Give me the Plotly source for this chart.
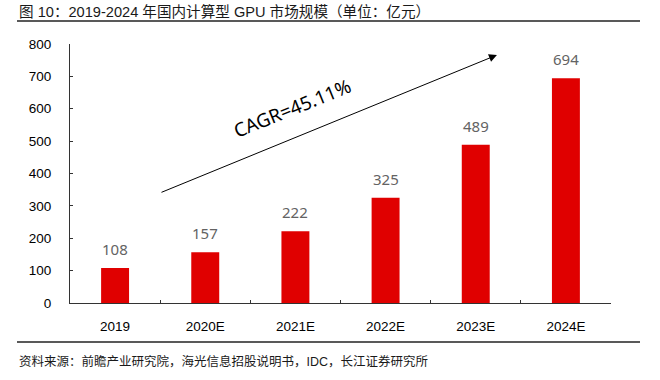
import plotly.graph_objects as go

# ---- data ----
categories = ["2019", "2020E", "2021E", "2022E", "2023E", "2024E"]
values = [108, 157, 222, 325, 489, 694]
y_ticks = [0, 100, 200, 300, 400, 500, 600, 700, 800]
title_text = "图 10：2019-2024 年国内计算型 GPU 市场规模（单位：亿元）"
source_text = "资料来源：前瞻产业研究院，海光信息招股说明书，IDC，长江证券研究所"
cagr_text = "CAGR=45.11%"

# ---- layout geometry ----
W, H = 660, 380
ML, MR, MT, MB = 70, 49, 44, 77
PW, PH = W - ML - MR, H - MT - MB


def px_x(px):
    return (px - ML) / PW


def px_y(py):
    return (H - MB - py) / PH


AX_FONT = "Liberation Sans, Arial, sans-serif"
LBL_FONT = "Noto Sans, Roboto, sans-serif"
MIX_FONT = "Liberation Sans, Noto Sans CJK SC, sans-serif"

fig = go.Figure()
fig.add_trace(go.Bar(
    x=categories, y=values, width=0.31,
    marker=dict(color="#E00000", line=dict(width=0)),
    showlegend=False, hoverinfo="x+y",
))

# value labels above bars (category index positions)
for i, v in enumerate(values):
    fig.add_annotation(x=i, y=v, xref="x", yref="y", text=str(v),
                       showarrow=False, yanchor="middle", yshift=19,
                       font=dict(family=LBL_FONT, size=15, color="#636363"))

fig.update_layout(
    width=W, height=H,
    margin=dict(l=ML, r=MR, t=MT, b=MB),
    paper_bgcolor="white", plot_bgcolor="white",
    xaxis=dict(type="category", range=[-0.5, len(categories) - 0.5],
               showline=True, linecolor="#333333", linewidth=1,
               ticks="inside", ticklen=3, tickcolor="#333333", tickson="boundaries",
               showgrid=False, tickfont=dict(family=AX_FONT, size=13.5, color="#000000"),
               ticklabelstandoff=11),
    yaxis=dict(range=[0, 800], tickvals=y_ticks, showline=True, linecolor="#333333",
               linewidth=1, ticks="inside", ticklen=3, tickcolor="#333333",
               showgrid=False, zeroline=False,
               tickfont=dict(family=AX_FONT, size=13.5, color="#000000"),
               ticklabelstandoff=15),
)

# growth arrow (data coordinates)
fig.add_annotation(x=4.235, y=766, ax=0.498, ay=340, xref="x", yref="y",
                   axref="x", ayref="y", text="", showarrow=True,
                   arrowhead=2, arrowsize=1.6, arrowwidth=1, arrowcolor="#000000")
fig.add_annotation(x=1.973, y=602, xref="x", yref="y", text=cagr_text,
                   showarrow=False, textangle=-22,
                   font=dict(family=LBL_FONT, size=19, color="#000000"))

# title, underline, source line and source text
fig.add_annotation(x=px_x(17), y=px_y(12), xref="paper", yref="paper",
                   xanchor="left", yanchor="middle", text=title_text,
                   showarrow=False,
                   font=dict(family=MIX_FONT, size=14.6, color="#1a1a1a"))
fig.add_shape(type="line", xref="paper", yref="paper",
              x0=px_x(17), x1=px_x(640), y0=px_y(21), y1=px_y(21),
              line=dict(color="#222222", width=1.5))
fig.add_shape(type="line", xref="paper", yref="paper",
              x0=px_x(17), x1=px_x(640), y0=px_y(342), y1=px_y(342),
              line=dict(color="#222222", width=1.5))
fig.add_annotation(x=px_x(17), y=px_y(361), xref="paper", yref="paper",
                   xanchor="left", yanchor="middle", text=source_text,
                   showarrow=False,
                   font=dict(family=MIX_FONT, size=12.5, color="#1a1a1a"))

fig.write_html("out.html", config={"displayModeBar": False},
               post_script="document.body.style.margin='0px';document.body.style.overflow='hidden';")
